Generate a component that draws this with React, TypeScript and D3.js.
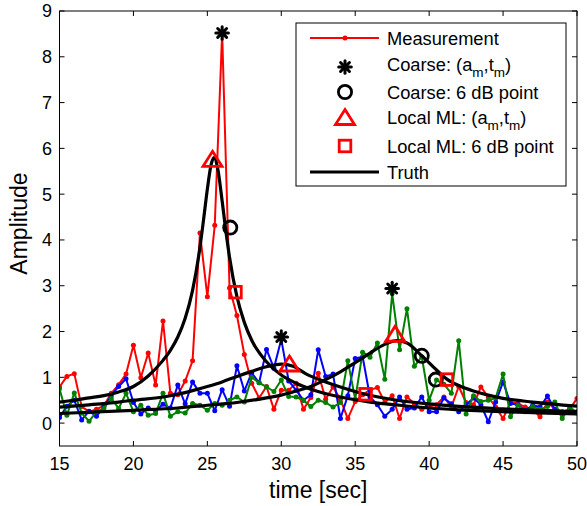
import React from "react";
import * as d3 from "d3";

// ---- data ----
const times: number[] = d3.range(0, 71).map((i) => 15 + i * 0.5);

const redMeas = [0.79, 1.02, 1.08, 0.36, 0.25, 0.3, 0.38, 0.65, 0.84, 1.07, 1.7, 0.99, 1.53, 0.83, 2.23, 0.65, 0.62, 0.92, 1.36, 4.15, 2.76, 4.32, 8.52, 2.95, 2.35, 1.5, 0.87, 0.55, 0.8, 0.3, 0.72, 0.72, 0.87, 0.3, 0.56, 1.09, 0.52, 0.79, 0.52, 0.1, 0.47, 0.62, 0.72, 0.78, 0.45, 0.6, 0.1, 0.57, 0.43, 0.3, 0.36, 0.4, 0.57, 0.35, 0.8, 0.45, 0.4, 0.79, 0.57, 0.35, 0.1, 0.46, 0.43, 0.35, 0.3, 0.14, 0.46, 0.3, 0.25, 0.3, 0.54];
const blueMeas = [0.12, 0.37, 0.5, 0.07, 0.26, 0.15, 0.35, 0.6, 0.8, 0.97, 0.45, 0.2, 0.33, 0.27, 0.41, 0.33, 0.83, 0.42, 0.9, 0.65, 0.65, 0.27, 0.73, 0.37, 1.25, 0.7, 1.1, 0.88, 1.61, 1.2, 1.83, 0.92, 0.72, 0.5, 0.62, 1.6, 1.02, 1.07, 0.1, 0.6, 1.41, 1.45, 0.57, 0.4, 0.15, 0.3, 0.57, 0.3, 0.33, 0.57, 0.25, 0.25, 0.55, 0.42, 0.25, 0.4, 0.55, 0.4, 0.03, 0.46, 0.9, 0.43, 0.4, 0.28, 0.39, 0.35, 0.59, 0.3, 0.19, 0.3, 0.25];
const greenMeas = [0.75, 0.17, 0.66, 0.22, 0.04, 0.25, 0.32, 0.54, 0.32, 0.65, 0.25, 0.39, 0.17, 0.21, 0.65, 0.15, 0.25, 0.22, 0.43, 0.39, 0.28, 0.43, 0.39, 0.5, 0.57, 0.46, 1.0, 0.88, 0.79, 0.69, 0.94, 0.58, 0.57, 0.5, 0.36, 0.5, 0.45, 0.35, 0.45, 1.36, 0.52, 1.55, 1.44, 1.75, 0.96, 2.83, 1.6, 2.5, 1.24, 1.45, 0.5, 0.94, 0.85, 0.65, 1.8, 0.2, 0.6, 0.47, 0.5, 0.55, 1.07, 0.14, 0.39, 0.25, 0.36, 0.3, 0.36, 0.46, 0.1, 0.36, 0.22];

const truthRedT = [15, 16, 17, 18, 19, 20, 21, 22, 22.5, 23, 23.5, 24, 24.5, 24.75, 25, 25.25, 25.45, 25.7, 26, 26.25, 26.5, 27, 27.5, 28, 29, 30, 31, 32, 34, 36, 38, 40, 42, 44, 46, 48, 50];
const truthRedV = [0.46, 0.5, 0.55, 0.6, 0.68, 0.8, 1.03, 1.37, 1.59, 1.88, 2.29, 2.9, 3.84, 4.46, 5.11, 5.64, 5.8, 5.56, 4.85, 4.2, 3.62, 2.76, 2.2, 1.81, 1.34, 1.05, 0.87, 0.74, 0.57, 0.46, 0.39, 0.33, 0.29, 0.26, 0.24, 0.22, 0.2];
const truthBlueT = [15, 17, 19, 20, 22, 23, 24, 25, 26, 27, 28, 29, 30, 30.8, 31.7, 33, 34, 35.7, 37.4, 40, 45, 50];
const truthBlueV = [0.35, 0.4, 0.46, 0.5, 0.57, 0.63, 0.71, 0.8, 0.9, 1.02, 1.13, 1.23, 1.29, 1.24, 1.07, 0.9, 0.79, 0.63, 0.52, 0.42, 0.31, 0.25];
const truthGreenT = [15, 20, 23, 25, 27, 29, 30, 31, 32, 33, 34, 35, 36, 37, 37.8, 38.5, 39.5, 40.5, 41.2, 42, 43, 44, 45, 47, 50];
const truthGreenV = [0.21, 0.28, 0.33, 0.39, 0.45, 0.55, 0.61, 0.7, 0.8, 0.95, 1.12, 1.32, 1.53, 1.72, 1.8, 1.75, 1.47, 1.16, 0.96, 0.82, 0.7, 0.61, 0.54, 0.46, 0.37];

const coarsePeakT = [26.0, 30.0, 37.5];
const coarsePeakV = [8.52, 1.88, 2.94];
const coarse6dbT = [26.55, 39.5, 40.45];
const coarse6dbV = [4.27, 1.47, 0.95];
const mlPeakT = [25.35, 30.55, 37.7];
const mlPeakV = [5.75, 1.28, 1.93];
const ml6dbT = [26.9, 35.7, 41.2];
const ml6dbV = [2.86, 0.63, 0.95];

const xTicks = [15, 20, 25, 30, 35, 40, 45, 50];
const yTicks = [0, 1, 2, 3, 4, 5, 6, 7, 8, 9];

const FONT = "'Liberation Sans', Arial, Helvetica, sans-serif";

const Star = ({ cx, cy, r = 6.3 }: { cx: number; cy: number; r?: number }) => (
  <g stroke="#000" strokeWidth={3} strokeLinecap="round">
    {[0, 45, 90, 135].map((a) => {
      const rad = (a * Math.PI) / 180;
      const dx = Math.cos(rad) * r;
      const dy = Math.sin(rad) * r;
      return <line key={a} x1={cx - dx} y1={cy - dy} x2={cx + dx} y2={cy + dy} />;
    })}
    <circle cx={cx} cy={cy} r={3.6} fill="#000" stroke="none" />
  </g>
);

const Circ = ({ cx, cy }: { cx: number; cy: number }) => (
  <circle cx={cx} cy={cy} r={6.6} fill="none" stroke="#000" strokeWidth={2.8} />
);

const Tri = ({ cx, cy }: { cx: number; cy: number }) => (
  <path d={`M${cx},${cy - 8.5} L${cx + 9.5},${cy + 6.5} L${cx - 9.5},${cy + 6.5} Z`} fill="none" stroke="#ff0000" strokeWidth={2.8} strokeLinejoin="miter" />
);

const Sq = ({ cx, cy }: { cx: number; cy: number }) => (
  <rect x={cx - 5.8} y={cy - 5.8} width={11.6} height={11.6} fill="none" stroke="#ff0000" strokeWidth={2.8} />
);

export default function App() {
  const W = 587, H = 506;
  const L = 59.5, R = 577, T = 11, B = 446;
  const x = d3.scaleLinear().domain([15, 50]).range([L, R]);
  const y = d3.scaleLinear().domain([-0.5, 9]).range([B, T]);

  const measLine = d3.line<number>().x((_, i) => x(times[i])).y((d) => y(d));
  const truthLine = (ts: number[]) =>
    d3.line<number>().x((_, i) => x(ts[i])).y((d) => y(d)).curve(d3.curveMonotoneX);

  const series = [
    { vals: redMeas, color: "#ff0000" },
    { vals: blueMeas, color: "#0000ff" },
    { vals: greenMeas, color: "#008000" },
  ];
  const truths = [
    { t: truthRedT, v: truthRedV },
    { t: truthBlueT, v: truthBlueV },
    { t: truthGreenT, v: truthGreenV },
  ];

  const lgX0 = 310, lgX1 = 379, lgM = 345, lgText = 387;
  const rows = [38, 64, 92, 117, 146, 172];
  const sub = (s: string) => (
    <tspan fontSize={13.5} dy={6}>{s}</tspan>
  );

  return (
    <svg width={W} height={H} style={{ position: "absolute", left: 0, top: 0, background: "#fff" }} fontFamily={FONT}>
      <rect x={0} y={0} width={W} height={H} fill="#fff" />
      <defs>
        <clipPath id="plotclip">
          <rect x={L} y={T} width={R - L} height={B - T} />
        </clipPath>
      </defs>
      <g clipPath="url(#plotclip)">
        {series.map((s, k) => (
          <g key={k}>
            <path d={measLine(s.vals) || ""} fill="none" stroke={s.color} strokeWidth={2} strokeLinejoin="round" />
            {s.vals.map((v, i) => (
              <circle key={i} cx={x(times[i])} cy={y(v)} r={2.5} fill={s.color} />
            ))}
          </g>
        ))}
        {truths.map((tr, k) => (
          <path key={k} d={truthLine(tr.t)(tr.v) || ""} fill="none" stroke="#000" strokeWidth={3.2} strokeLinejoin="round" />
        ))}
        {coarsePeakT.map((t, i) => <Star key={"s" + i} cx={x(t)} cy={y(coarsePeakV[i])} />)}
        {coarse6dbT.map((t, i) => <Circ key={"c" + i} cx={x(t)} cy={y(coarse6dbV[i])} />)}
        {mlPeakT.map((t, i) => <Tri key={"t" + i} cx={x(t)} cy={y(mlPeakV[i])} />)}
        {ml6dbT.map((t, i) => <Sq key={"q" + i} cx={x(t)} cy={y(ml6dbV[i])} />)}
      </g>

      {/* frame */}
      <rect x={L} y={T} width={R - L} height={B - T} fill="none" stroke="#000" strokeWidth={1} />
      {xTicks.map((t) => (
        <g key={"xt" + t}>
          <line x1={x(t)} x2={x(t)} y1={B} y2={B - 5} stroke="#000" />
          <line x1={x(t)} x2={x(t)} y1={T} y2={T + 5} stroke="#000" />
          <text x={x(t)} y={470} textAnchor="middle" fontSize={18} fill="#000">{t}</text>
        </g>
      ))}
      {yTicks.map((v) => (
        <g key={"yt" + v}>
          <line x1={L} x2={L + 5} y1={y(v)} y2={y(v)} stroke="#000" />
          <line x1={R} x2={R - 5} y1={y(v)} y2={y(v)} stroke="#000" />
          <text x={52} y={y(v) + 6.4} textAnchor="end" fontSize={18} fill="#000">{v}</text>
        </g>
      ))}
      <text x={(L + R) / 2} y={498} textAnchor="middle" fontSize={23} fill="#000">time [sec]</text>
      <text transform={`translate(27,${(T + B) / 2 - 5}) rotate(-90)`} textAnchor="middle" fontSize={23} fill="#000">Amplitude</text>

      {/* legend */}
      <rect x={296} y={23} width={270} height={163} fill="#fff" stroke="#000" strokeWidth={1} />
      <line x1={lgX0} x2={lgX1} y1={rows[0]} y2={rows[0]} stroke="#ff0000" strokeWidth={2} />
      <circle cx={lgM} cy={rows[0]} r={2.5} fill="#ff0000" />
      <Star cx={lgM} cy={rows[1] + 3} />
      <Circ cx={lgM} cy={rows[2]} />
      <Tri cx={lgM} cy={rows[3] + 1} />
      <Sq cx={lgM} cy={rows[4]} />
      <line x1={lgX0} x2={lgX1} y1={rows[5]} y2={rows[5]} stroke="#000" strokeWidth={3.2} />
      <g fontSize={18.3} fill="#000">
        <text x={lgText} y={rows[0] + 6.5}>Measurement</text>
        <text x={lgText} y={rows[1] + 6.5}>Coarse: (a{sub("m")}<tspan dy={-6}>,t</tspan>{sub("m")}<tspan dy={-6}>)</tspan></text>
        <text x={lgText} y={rows[2] + 6.5}>Coarse: 6 dB point</text>
        <text x={lgText} y={rows[3] + 6.5}>Local ML: (a{sub("m")}<tspan dy={-6}>,t</tspan>{sub("m")}<tspan dy={-6}>)</tspan></text>
        <text x={lgText} y={rows[4] + 6.5}>Local ML: 6 dB point</text>
        <text x={lgText} y={rows[5] + 6.5}>Truth</text>
      </g>
    </svg>
  );
}
